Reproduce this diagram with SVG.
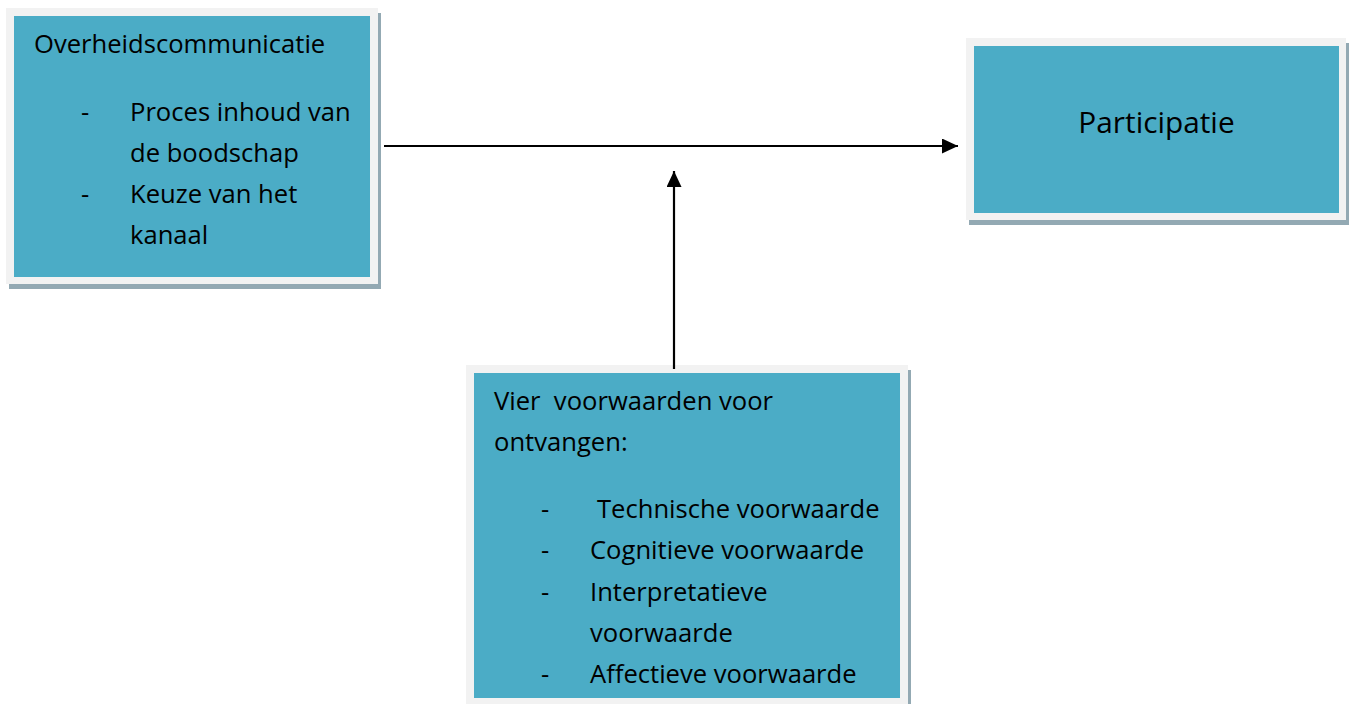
<svg xmlns="http://www.w3.org/2000/svg" width="1352" height="704" viewBox="0 0 1352 704">
<style>
.shadow{fill:#93A9B3}
.frame{fill:#F2F2F2}
.fill{fill:#4BACC6}
text{font-family:"Open Sans","Noto Sans",sans-serif;font-size:25.6px;fill:#000;white-space:pre}
.big{font-size:29.8px}
.conn{stroke:#000;stroke-width:2.2;fill:none}
</style>
<defs>
<marker id="arrow" markerUnits="userSpaceOnUse" markerWidth="16" markerHeight="15" refX="16" refY="7.5" orient="auto">
<path d="M0,0 L16,7.5 L0,15 Z" fill="#000"/>
</marker>
</defs>
<rect width="1352" height="704" fill="#fff"/>
<g id="node-overheidscommunicatie">
<rect class="shadow" x="9" y="13" width="372" height="276"/>
<rect class="frame" x="6" y="8" width="372" height="276"/>
<rect class="fill" x="14" y="16" width="356" height="261"/>
<text x="34" y="53">Overheidscommunicatie</text>
<text x="81" y="121">-</text>
<text x="130" y="121">Proces inhoud van</text>
<text x="130" y="162">de boodschap</text>
<text x="81" y="203">-</text>
<text x="130" y="203">Keuze van het</text>
<text x="130" y="244">kanaal</text>
</g>
<g id="node-participatie">
<rect class="shadow" x="969" y="43" width="380" height="182"/>
<rect class="frame" x="966" y="38" width="380" height="182"/>
<rect class="fill" x="974" y="46" width="365" height="167"/>
<text class="big" x="1156.5" y="133" text-anchor="middle">Participatie</text>
</g>
<g id="node-voorwaarden">
<rect class="shadow" x="469" y="370" width="442" height="345"/>
<rect class="frame" x="466" y="365" width="442" height="345"/>
<rect class="fill" x="474" y="373" width="426" height="325"/>
<text x="494" y="410">Vier  voorwaarden voor</text>
<text x="494" y="451">ontvangen:</text>
<text x="541" y="518">-</text>
<text x="597" y="518">Technische voorwaarde</text>
<text x="541" y="559">-</text>
<text x="590" y="559">Cognitieve voorwaarde</text>
<text x="541" y="601">-</text>
<text x="590" y="601">Interpretatieve</text>
<text x="590" y="642">voorwaarde</text>
<text x="541" y="683">-</text>
<text x="590" y="683">Affectieve voorwaarde</text>
</g>
<g id="connectors">
<line class="conn" x1="384" y1="146" x2="958" y2="146" marker-end="url(#arrow)"/>
<line class="conn" x1="674" y1="369" x2="674" y2="171" marker-end="url(#arrow)"/>
</g>
</svg>
